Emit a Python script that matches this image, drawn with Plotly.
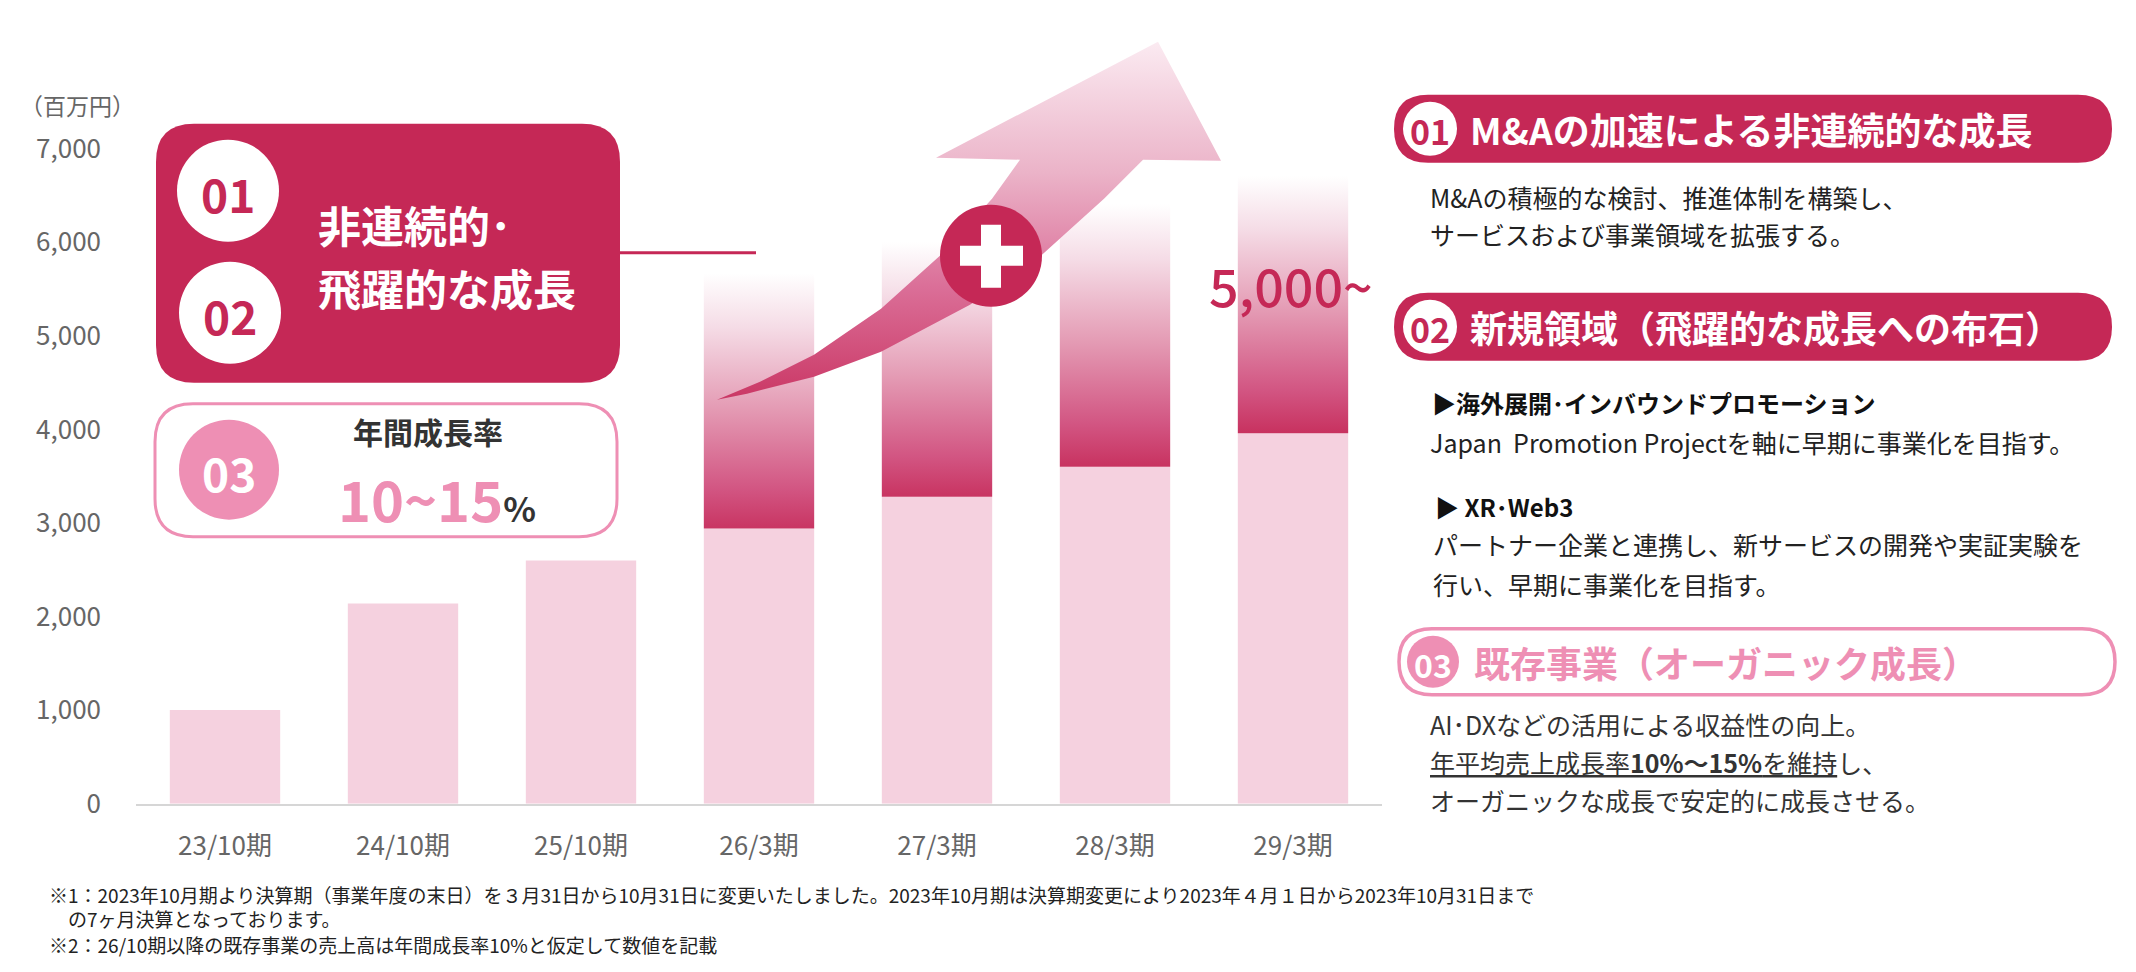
import plotly.graph_objects as go

# ---- data ----
periods = ["23/10期", "24/10期", "25/10期", "26/3期", "27/3期", "28/3期", "29/3期"]
existing_sales = [1000, 2140, 2600, 2940, 3280, 3600, 3960]
# top of the M&A / new-domain portion (gradient bars), None = no extra portion
growth_top = [None, None, None, 5720, 6040, 6430, 6720]
y_ticks = [0, 1000, 2000, 3000, 4000, 5000, 6000, 7000]

W, H = 2136, 972
CRIMSON = "#C52856"
PINK = "#EE8FB4"
LIGHT = "#F5D1DF"
JP = "Noto Sans CJK JP"


def py(y):
    # vertical position in the page, corrected for the photo's vertical squeeze
    return (y - 19.3) / 0.962


BAR_W = 0.62
xs = list(range(len(periods)))

fig = go.Figure()

fig.add_trace(go.Bar(
    x=xs, y=existing_sales, width=BAR_W,
    marker=dict(color=LIGHT, line=dict(width=0)),
    hoverinfo="skip", showlegend=False,
))

grad = [[0, "#C52856"], [0.2, "#D25582"], [0.5, "#E49BB4"], [0.8, "#F5DCE6"], [1, "#FFFFFF"]]
for i, (base, top) in enumerate(zip(existing_sales, growth_top)):
    if top is None:
        continue
    x0, x1 = xs[i] - BAR_W / 2, xs[i] + BAR_W / 2
    fig.add_trace(go.Scatter(
        x=[x0, x1, x1, x0, x0], y=[base, base, top, top, base],
        mode="none", fill="toself",
        fillgradient=dict(type="vertical", colorscale=grad, start=base, stop=top),
        hoverinfo="skip", showlegend=False,
    ))

# ---- decorative arrow ----
arrow_x = [717, 760, 814, 881, 941, 992, 1020, 936, 1158, 1221, 1143, 1104, 1042, 970, 881, 814, 747, 717]
arrow_y = [398, 380, 353, 307, 253, 197, 158, 156, 40, 159, 158, 197, 253, 303, 350, 375, 392, 398]
fig.add_trace(go.Scatter(
    x=arrow_x, y=[py(v) for v in arrow_y], xaxis="x2", yaxis="y2",
    mode="none", fill="toself",
    fillgradient=dict(type="vertical",
                      colorscale=[[0, "#C8305E"], [0.35, "#DB7099"], [0.65, "#EBB3C8"], [1, "#FBEAF1"]],
                      start=py(398), stop=py(40)),
    hoverinfo="skip", showlegend=False,
))


def rrect(x0, y0, x1, y1, r):
    y0, y1 = py(y0), py(y1)
    ry = r / 0.962
    return (f"M{x0+r},{y0} L{x1-r},{y0} Q{x1},{y0} {x1},{y0+ry} "
            f"L{x1},{y1-ry} Q{x1},{y1} {x1-r},{y1} L{x0+r},{y1} "
            f"Q{x0},{y1} {x0},{y1-ry} L{x0},{y0+ry} Q{x0},{y0} {x0+r},{y0} Z")


shapes = []


def add_path(path, fill, line_color=None, line_width=0):
    shapes.append(dict(type="path", path=path, xref="x2", yref="y2", fillcolor=fill,
                       line=dict(color=line_color or fill, width=line_width), layer="above"))


def add_rect(x0, y0, x1, y1, fill):
    shapes.append(dict(type="rect", xref="x2", yref="y2", x0=x0, x1=x1, y0=py(y0), y1=py(y1),
                       fillcolor=fill, line=dict(width=0), layer="above"))


def add_circle(cx, cy, r, fill):
    shapes.append(dict(type="circle", xref="x2", yref="y2", x0=cx - r, x1=cx + r,
                       y0=py(cy - r), y1=py(cy + r), fillcolor=fill, line=dict(width=0), layer="above"))


ann = []


def text(x, y, s, size, color, weight="normal", xanchor="left", yanchor="middle", family=JP, align="left"):
    ann.append(dict(x=x, y=py(y), xref="x2", yref="y2", text=s, showarrow=False,
                    xanchor=xanchor, yanchor=yanchor, align=align,
                    font=dict(family=family, size=size, color=color, weight=weight)))


# left box 01/02
add_path(rrect(156, 122, 620, 381, 38), CRIMSON)
add_circle(228, 189, 51, "white")
add_circle(230, 311, 51, "white")
text(228, 191, "01", 46, CRIMSON, "bold", "center")
text(230, 313, "02", 46, CRIMSON, "bold", "center")
text(316, 222, "非連続的･", 43, "white", "bold")
text(316, 285, "飛躍的な成長", 43, "white", "bold")
shapes.append(dict(type="line", xref="x2", yref="y2", x0=620, x1=756, y0=py(251), y1=py(251),
                   line=dict(color=CRIMSON, width=3), layer="above"))

# left box 03
add_path(rrect(155, 402, 617, 535, 38), "white", PINK, 3)
add_circle(229, 468, 50, PINK)
text(229, 470, "03", 46, "white", "bold", "center")
text(428, 429, "年間成長率", 30, "#333333", "bold", "center")
text(336, 496, "10~15<span style='font-size:34px;color:#333333'>%</span>", 56, PINK, "bold")

# plus circle
add_circle(991, 254, 51, CRIMSON)
add_rect(981, 223, 1001, 286, "white")
add_rect(960, 244, 1023, 264, "white")
text(1207, 283, "5,000~", 52, CRIMSON, 500)

# right column
add_path(rrect(1394, 93, 2112, 161, 34), CRIMSON)
add_circle(1430, 127, 27, "white")
text(1430, 129, "01", 34, CRIMSON, "bold", "center")
text(1468, 127, "M&Aの加速による非連続的な成長", 37, "white", "bold")
text(1428, 195, "M&Aの積極的な検討、推進体制を構築し、", 25, "#222222")
text(1428, 232, "サービスおよび事業領域を拡張する。", 25, "#222222")

add_path(rrect(1394, 291, 2112, 359, 34), CRIMSON)
add_circle(1430, 325, 27, "white")
text(1430, 327, "02", 34, CRIMSON, "bold", "center")
text(1468, 325, "新規領域（飛躍的な成長への布石）", 37, "white", "bold")
text(1430, 401, "▶海外展開･インバウンドプロモーション", 24, "#111111", "bold")
text(1428, 440, "Japan  Promotion Projectを軸に早期に事業化を目指す。", 25, "#222222")
text(1433, 505, "▶ XR･Web3", 24, "#111111", "bold")
text(1431, 542, "パートナー企業と連携し、新サービスの開発や実証実験を", 25, "#222222")
text(1431, 582, "行い、早期に事業化を目指す。", 25, "#222222")

add_path(rrect(1399, 627, 2115, 693, 33), "white", PINK, 3.5)
add_circle(1433, 660, 26, PINK)
text(1433, 662, "03", 32, "white", "bold", "center")
text(1472, 660, "既存事業（オーガニック成長）", 36, PINK, "bold")
text(1428, 722, "AI･DXなどの活用による収益性の向上。", 25, "#333333")
text(1428, 760, "<u>年平均売上成長率<b>10%〜15%</b>を維持</u>し、", 25, "#333333")
text(1428, 798, "オーガニックな成長で安定的に成長させる。", 25, "#333333")

# axis unit + footnotes
text(18, 103, "（百万円）", 23, "#666666")
text(47, 893, "※1：2023年10月期より決算期（事業年度の末日）を３月31日から10月31日に変更いたしました。"
     "2023年10月期は決算期変更により2023年４月１日から2023年10月31日まで", 19, "#222222")
text(47, 917, "　の7ヶ月決算となっております。", 19, "#222222")
text(47, 943, "※2：26/10期以降の既存事業の売上高は年間成長率10%と仮定して数値を記載", 19, "#222222")

x_l, x_r = 136, 1382
y_t, y_b = py(147), py(802)

fig.update_layout(
    width=W, height=H,
    margin=dict(l=0, r=0, t=0, b=0),
    paper_bgcolor="white", plot_bgcolor="rgba(0,0,0,0)",
    showlegend=False,
    font=dict(family=JP),
    xaxis=dict(domain=[x_l / W, x_r / W], range=[-0.5, len(periods) - 0.5],
               tickvals=xs, ticktext=periods, showgrid=False, zeroline=False,
               showline=True, linecolor="#D6D6D6", linewidth=2, ticks="",
               tickfont=dict(size=26, color="#666666", family=JP),
               ticklabelstandoff=18, fixedrange=True),
    yaxis=dict(domain=[1 - y_b / H, 1 - y_t / H], range=[0, 7000],
               tickvals=y_ticks, tickformat=",", showgrid=False, zeroline=False,
               showline=False, ticks="",
               tickfont=dict(size=26, color="#666666", family=JP),
               ticklabelstandoff=34, fixedrange=True),
    xaxis2=dict(domain=[0, 1], range=[0, W], visible=False, anchor="y2", fixedrange=True),
    yaxis2=dict(domain=[0, 1], range=[H, 0], visible=False, anchor="x2", fixedrange=True),
    shapes=shapes,
    annotations=ann,
)

fig.write_html("out.html", config={"displayModeBar": False},
               post_script="document.body.style.margin='0';document.body.style.overflow='hidden';")
